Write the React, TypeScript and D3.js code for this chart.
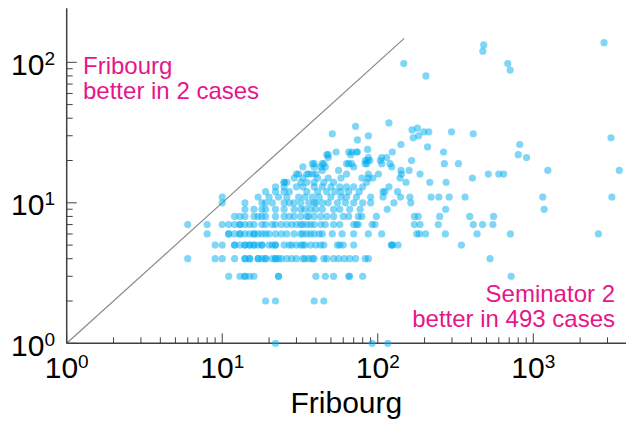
import React from "react";
import * as d3 from "d3";

// Seminator 2 result (y) -> list of Fribourg results (x) at that level
const seminatorLevels = [
  1, 2, 3, 4, 5, 6, 7, 8, 9, 10, 11, 12, 13, 14, 15, 16, 17, 18, 19, 20, 21, 22,
  23, 24, 25, 26, 28, 29, 30, 31, 32, 33, 34, 35, 37, 80, 88, 98, 120, 133, 138,
];

const fribourgByLevel = [
  [22, 92, 116],
  [19, 22, 39, 45],
  [11, 13, 14, 14, 15, 16, 23, 23, 40, 46, 52, 65, 66, 80, 720],
  [6, 9, 10, 12, 14, 14, 15, 15, 17, 17, 18, 19, 19, 21, 22, 22, 23, 24, 26, 28, 30, 33, 34, 36, 38, 39, 45, 47, 52, 56, 61, 66, 72, 83, 87, 527],
  [9, 10, 12, 12, 13, 14, 14, 15, 15, 16, 16, 17, 18, 18, 20, 21, 22, 22, 25, 27, 28, 30, 32, 33, 34, 37, 40, 43, 45, 55, 57, 60, 70, 122, 124, 124, 135, 345],
  [8, 11, 11, 12, 13, 13, 14, 15, 16, 16, 17, 18, 19, 20, 22, 24, 26, 29, 32, 33, 35, 37, 39, 42, 44, 51, 59, 70, 87, 106, 178, 185, 203, 272, 435, 712, 2620],
  [6, 8, 10, 11, 12, 13, 13, 14, 15, 16, 18, 19, 21, 22, 24, 26, 28, 30, 32, 33, 35, 37, 39, 43, 46, 52, 57, 70, 73, 75, 92, 96, 172, 187, 245, 411, 472, 550],
  [12, 13, 14, 16, 17, 18, 19, 22, 25, 27, 29, 32, 35, 36, 39, 43, 47, 52, 60, 65, 75, 79, 98, 172, 182, 250, 390, 555],
  [14, 16, 18, 19, 22, 25, 29, 32, 34, 37, 40, 44, 52, 57, 66, 77, 115, 273, 1175],
  [10, 14, 18, 19, 21, 25, 27, 29, 32, 36, 39, 40, 44, 48, 55, 62, 70, 80, 90, 127, 163],
  [10, 17, 20, 23, 26, 31, 34, 38, 42, 50, 58, 63, 73, 90, 108, 140, 161, 220, 247, 288, 364, 1150, 3200],
  [19, 22, 25, 27, 35, 41, 47, 53, 58, 65, 76, 108, 111, 134],
  [22, 25, 30, 33, 39, 44, 50, 57, 63, 70, 80, 118],
  [25, 25, 26, 32, 35, 39, 45, 52, 85, 152, 216, 275],
  [29, 33, 41, 48, 58, 79, 87, 93, 139, 406],
  [30, 31, 35, 36, 38, 40, 63, 87, 101, 142, 187, 514, 600, 645],
  [44, 56, 141, 159, 1240, 3570],
  [33, 39, 43, 46, 70, 123],
  [38, 39, 44, 45, 63, 65, 68, 83, 85, 106, 120, 268, 330],
  [83, 86, 89, 104, 165],
  [48, 87, 106, 114, 905],
  [47, 48, 67, 800],
  [54, 65, 68, 73, 74, 124, 265],
  [86],
  [209],
  [141, 818],
  [74],
  [169, 3160],
  [87, 183],
  [51, 411],
  [198, 213, 298],
  [166],
  [180],
  [72],
  [118],
  [204],
  [710],
  [147, 685],
  [474],
  [480],
  [2850],
];

const xMajor = [1, 10, 100, 1000];
const yMajor = [1, 10, 100];
const xTitle = "Fribourg";
const topNote = ["Fribourg", "better in 2 cases"];
const bottomNote = ["Seminator 2", "better in 493 cases"];

const FONT = "'Liberation Sans', Arial, Helvetica, sans-serif";
const PINK = "#e6168a";

export default function App() {
  const W = 626;
  const H = 422;
  const x = d3.scaleLog().domain([1, 1000]).range([66.7, 533.3]);
  const y = d3.scaleLog().domain([1, 100]).range([343.3, 62.3]);
  const xEnd = W;
  const yTop = 8.3;

  const points: [number, number][] = [];
  seminatorLevels.forEach((s, i) => {
    fribourgByLevel[i].forEach((f) => points.push([f, s]));
  });

  const xMinor: number[] = [];
  xMajor.forEach((d) => {
    for (let k = 2; k <= 9; k++) if (x(d * k) <= xEnd) xMinor.push(d * k);
  });
  const yMinor: number[] = [];
  [1, 10].forEach((d) => {
    for (let k = 2; k <= 9; k++) yMinor.push(d * k);
  });

  const axisColor = "#404040";

  return (
    <svg
      width={W}
      height={H}
      style={{ position: "absolute", left: 0, top: 0, display: "block" }}
      fontFamily={FONT}
    >
      <rect width={W} height={H} fill="#fff" />
      {/* diagonal */}
      <line
        x1={x(1)}
        y1={y(1)}
        x2={x(148)}
        y2={y(148)}
        stroke="#8a8a8a"
        strokeWidth={1.2}
      />
      {/* axes */}
      <line x1={x(1)} x2={xEnd} y1={y(1)} y2={y(1)} stroke={axisColor} strokeWidth={1.5} />
      <line x1={x(1)} x2={x(1)} y1={y(1)} y2={yTop} stroke={axisColor} strokeWidth={1.5} />
      {xMajor.map((v) => (
        <line key={"xM" + v} x1={x(v)} x2={x(v)} y1={y(1)} y2={y(1) - 10} stroke={axisColor} strokeWidth={1} />
      ))}
      {xMinor.map((v) => (
        <line key={"xm" + v} x1={x(v)} x2={x(v)} y1={y(1)} y2={y(1) - 6} stroke={axisColor} strokeWidth={1} />
      ))}
      {yMajor.map((v) => (
        <line key={"yM" + v} x1={x(1)} x2={x(1) + 10} y1={y(v)} y2={y(v)} stroke={axisColor} strokeWidth={1} />
      ))}
      {yMinor.map((v) => (
        <line key={"ym" + v} x1={x(1)} x2={x(1) + 6} y1={y(v)} y2={y(v)} stroke={axisColor} strokeWidth={1} />
      ))}
      {/* points */}
      <g fill="#00aeef" fillOpacity={0.5}>
        {points.map(([f, s], i) => (
          <circle key={i} cx={x(f)} cy={y(s)} r={3.6} />
        ))}
      </g>
      {/* tick labels */}
      {xMajor.map((v) => (
        <text key={"xl" + v} x={x(v)} y={378} textAnchor="middle" fontSize={30} fill="#000">
          10
          <tspan dy={-10} fontSize={19}>
            {Math.round(Math.log10(v))}
          </tspan>
        </text>
      ))}
      {yMajor.map((v) => (
        <text key={"yl" + v} x={11} y={y(v) + 12.5} fontSize={30} fill="#000">
          10
          <tspan dy={-10} fontSize={19}>
            {Math.round(Math.log10(v))}
          </tspan>
        </text>
      ))}
      <text x={(x(1) + xEnd) / 2} y={413} textAnchor="middle" fontSize={30} fill="#000">
        {xTitle}
      </text>
      {topNote.map((t, i) => (
        <text key={"tn" + i} x={83} y={74 + i * 25} fontSize={24} fill={PINK}>
          {t}
        </text>
      ))}
      {bottomNote.map((t, i) => (
        <text key={"bn" + i} x={615} y={302 + i * 25} fontSize={24} fill={PINK} textAnchor="end">
          {t}
        </text>
      ))}
    </svg>
  );
}
